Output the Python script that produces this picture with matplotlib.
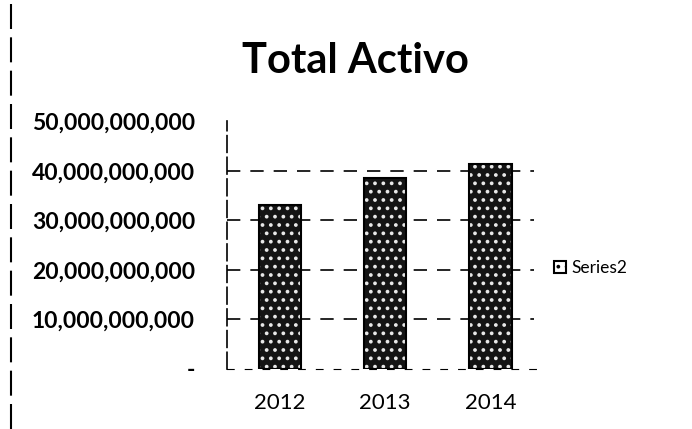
#%% Imports
import numpy as np
import matplotlib.pyplot as plt
from matplotlib.lines import Line2D
from matplotlib.patches import Patch

#%% Data
years = ['2012', '2013', '2014']
total_activo = [33.1e9, 38.6e9, 41.4e9]
y_ticks = [0, 10e9, 20e9, 30e9, 40e9, 50e9]
y_labels = ['-', '10,000,000,000', '20,000,000,000', '30,000,000,000',
            '40,000,000,000', '50,000,000,000']

plt.rcParams['font.family'] = ['Lato', 'DejaVu Sans']
plt.rcParams['hatch.linewidth'] = 1.5

#%% Figure
fig = plt.figure(figsize=(6.92, 4.29), dpi=100)
ax = fig.add_axes([0.328, 0.14, 0.457, 0.577])

x = np.arange(len(years))
# dark scanned-looking fill, then a black outline on top
ax.bar(x, total_activo, width=0.4, color='#141414', edgecolor='#e8e8e8',
       hatch='..', linewidth=0, zorder=3)
ax.bar(x, total_activo, width=0.4, fill=False, edgecolor='black',
       linewidth=1.5, zorder=4)

ax.set_xlim(-0.5, 2.5)
ax.set_ylim(0, 50e9)
ax.set_xticks(x)
ax.set_xticklabels(years, fontsize=16)
ax.set_yticks(y_ticks)
ax.set_yticklabels(y_labels, fontsize=16.5, fontweight='bold')
ax.tick_params(length=0)
ax.tick_params(axis='x', pad=17)
ax.tick_params(axis='y', pad=23)

# gridlines only between 10 and 40 billion
for yv in y_ticks[1:-1]:
    ax.axhline(yv, xmax=0.97, color='black', linestyle=(0, (8, 6)),
               linewidth=1.2, zorder=0)
for s in ['top', 'right']:
    ax.spines[s].set_visible(False)
ax.spines['left'].set_linestyle((0, (10, 3)))
ax.spines['left'].set_linewidth(1.2)
ax.spines['bottom'].set_linestyle((0, (6, 10)))

#%% Title and legend
fig.text(0.513, 0.83, 'Total Activo', fontsize=30, fontweight='bold', ha='center')
handle = Patch(facecolor='white', edgecolor='black', hatch='..', linewidth=1.5)
fig.legend([handle], ['Series2'], loc='center left', bbox_to_anchor=(0.778, 0.375),
           frameon=False, fontsize=12.5, handlelength=0.7, handleheight=0.7,
           handletextpad=0.3)

# scanned page edge
fig.add_artist(Line2D([0.016, 0.016], [0.0, 1.0], color='black',
                      linestyle=(0, (12, 4)), linewidth=1.5))

plt.savefig('out.png', dpi=100)
